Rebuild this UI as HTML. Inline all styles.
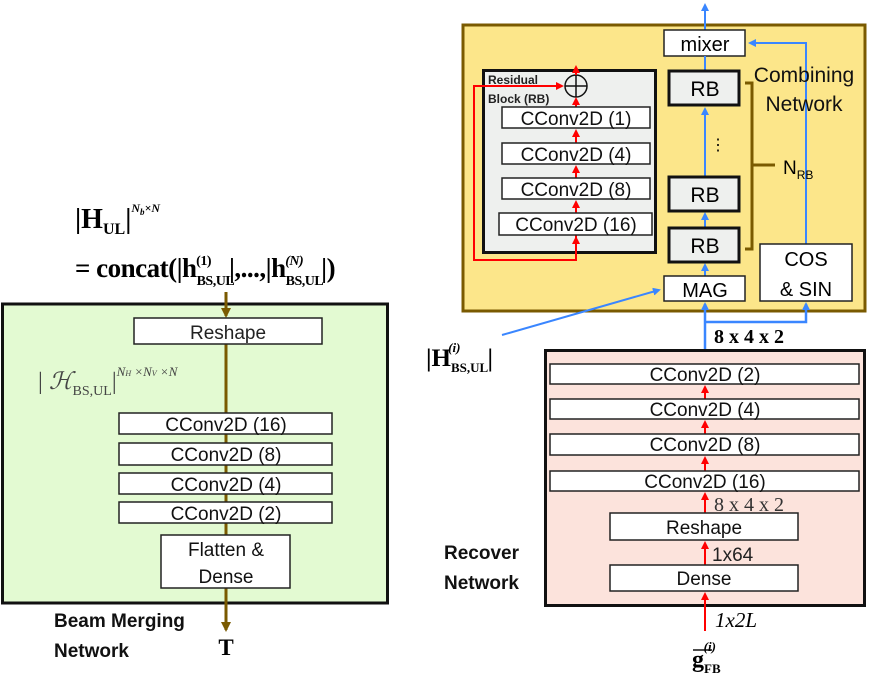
<!DOCTYPE html>
<html><head><meta charset="utf-8"><style>
html,body{margin:0;padding:0;background:#fff;}
svg{display:block;}
.s{font-family:"Liberation Sans",sans-serif;}
.r{font-family:"Liberation Serif",serif;}
</style></head><body>
<svg width="873" height="679" viewBox="0 0 873 679" xmlns="http://www.w3.org/2000/svg">
<defs>
<marker id="ab" markerWidth="8" markerHeight="8" refX="6" refY="4" orient="auto" markerUnits="userSpaceOnUse"><path d="M0,0 L8,4 L0,8 Z" fill="#3a86ff"/></marker>
<marker id="ar" markerWidth="8" markerHeight="8" refX="6" refY="4" orient="auto" markerUnits="userSpaceOnUse"><path d="M0,0 L8,4 L0,8 Z" fill="#f00"/></marker>
<marker id="ao" markerWidth="10" markerHeight="10" refX="8" refY="5" orient="auto" markerUnits="userSpaceOnUse"><path d="M0,0 L10,5 L0,10 Z" fill="#7a5a00"/></marker>
</defs>

<!-- LEFT -->
<text x="75" y="228" class="r" font-size="28" font-weight="bold">|<tspan>H</tspan><tspan font-size="16" dy="6">UL</tspan><tspan dy="-6">|</tspan><tspan font-size="12" font-style="italic" dy="-16">N</tspan><tspan font-size="9" font-style="italic" dy="3">b</tspan><tspan font-size="12" font-style="italic" dy="-3">×N</tspan></text>
<text x="75" y="277" class="r" font-size="27" font-weight="bold" letter-spacing="-0.5">= concat(|h<tspan font-size="14" dy="8">BS,UL</tspan><tspan font-size="14" dy="-20" dx="-38">(1)</tspan><tspan dy="12" dx="18">|,...,|h</tspan><tspan font-size="14" dy="8">BS,UL</tspan><tspan font-size="14" dy="-20" dx="-38" font-style="italic">(N)</tspan><tspan dy="12" dx="18">|)</tspan></text>

<rect x="2.5" y="304" width="385" height="299" fill="#e3fad2" stroke="#111" stroke-width="3"/>
<line x1="226" y1="292" x2="226" y2="316" stroke="#7a5a00" stroke-width="3" marker-end="url(#ao)"/>
<line x1="226" y1="344" x2="226" y2="630" stroke="#7a5a00" stroke-width="3" marker-end="url(#ao)"/>
<rect x="134" y="318" width="188" height="26" fill="#fff" stroke="#222" stroke-width="1.5"/>
<text x="228" y="339" class="s" font-size="19" text-anchor="middle" fill="#222">Reshape</text>
<text x="38" y="389" class="r" font-size="24" fill="#444">| <tspan font-style="italic" font-family="DejaVu Serif">ℋ</tspan><tspan font-size="14" dy="6">BS,UL</tspan><tspan dy="-6">|</tspan><tspan font-size="13" font-style="italic" dy="-13">N<tspan font-size="8">H</tspan> ×N<tspan font-size="8">V</tspan> ×N</tspan></text>
<g class="s" font-size="19" fill="#111" text-anchor="middle">
<rect x="119" y="413" width="213" height="21" fill="#fff" stroke="#222" stroke-width="1.5"/><text x="226" y="431">CConv2D (16)</text>
<rect x="119" y="443" width="213" height="22" fill="#fff" stroke="#222" stroke-width="1.5"/><text x="226" y="461">CConv2D (8)</text>
<rect x="119" y="473" width="213" height="21" fill="#fff" stroke="#222" stroke-width="1.5"/><text x="226" y="491">CConv2D (4)</text>
<rect x="119" y="502" width="213" height="21" fill="#fff" stroke="#222" stroke-width="1.5"/><text x="226" y="520">CConv2D (2)</text>
<rect x="161" y="535" width="129" height="53" fill="#fff" stroke="#222" stroke-width="1.5"/><text x="226" y="556">Flatten &amp;</text><text x="226" y="583">Dense</text>
</g>
<text x="54" y="627" class="s" font-size="19" font-weight="bold" fill="#111">Beam Merging</text>
<text x="54" y="657" class="s" font-size="19" font-weight="bold" fill="#111">Network</text>
<text x="226" y="655" class="r" font-size="23" font-weight="bold" text-anchor="middle">T</text>

<!-- RIGHT TOP -->
<rect x="463" y="25" width="402" height="286" fill="#fce68a" stroke="#7a5a00" stroke-width="3"/>
<line x1="705" y1="30" x2="705" y2="5" stroke="#3a86ff" stroke-width="2" marker-end="url(#ab)"/>
<rect x="664" y="30" width="81" height="26" fill="#fff" stroke="#222" stroke-width="1.5"/>
<text x="705" y="51" class="s" font-size="20" text-anchor="middle">mixer</text>
<polyline points="806,244 806,43 750,43" fill="none" stroke="#3a86ff" stroke-width="2" marker-end="url(#ab)"/>
<line x1="705" y1="56" x2="705" y2="70" stroke="#3a86ff" stroke-width="2"/>
<line x1="705" y1="176" x2="705" y2="109" stroke="#3a86ff" stroke-width="2" marker-end="url(#ab)"/>
<line x1="705" y1="227" x2="705" y2="214" stroke="#3a86ff" stroke-width="2" marker-end="url(#ab)"/>
<line x1="705" y1="276" x2="705" y2="265" stroke="#3a86ff" stroke-width="2" marker-end="url(#ab)"/>
<g class="s" font-size="21" text-anchor="middle">
<rect x="669" y="71" width="70" height="34" fill="#eef0ee" stroke="#111" stroke-width="3"/><text x="705" y="96">RB</text>
<rect x="669" y="177" width="70" height="34" fill="#eef0ee" stroke="#111" stroke-width="3"/><text x="705" y="202">RB</text>
<rect x="669" y="228" width="70" height="34" fill="#eef0ee" stroke="#111" stroke-width="3"/><text x="705" y="253">RB</text>
</g>
<text x="718" y="150" class="s" font-size="16" text-anchor="middle">⋮</text>
<path d="M745,83 H752 V249 H745 M752,165 H775" fill="none" stroke="#7a5a00" stroke-width="3"/>
<text x="783" y="174" class="s" font-size="19">N<tspan font-size="12" dy="5">RB</tspan></text>
<text x="804" y="82" class="s" font-size="21" text-anchor="middle" fill="#111">Combining</text>
<text x="804" y="111" class="s" font-size="21" text-anchor="middle" fill="#111">Network</text>
<rect x="664" y="276" width="81" height="25" fill="#fff" stroke="#222" stroke-width="1.5"/>
<text x="705" y="297" class="s" font-size="20" text-anchor="middle">MAG</text>
<rect x="760" y="244" width="92" height="57" fill="#fff" stroke="#222" stroke-width="1.5"/>
<text x="806" y="266" class="s" font-size="20" text-anchor="middle">COS</text>
<text x="806" y="296" class="s" font-size="20" text-anchor="middle">&amp; SIN</text>

<!-- residual block -->
<rect x="483.5" y="70.5" width="172" height="182" fill="#eef0ee" stroke="#111" stroke-width="3"/>
<text x="488" y="84" class="s" font-size="12" font-weight="bold" fill="#222">Residual</text>
<text x="488" y="103" class="s" font-size="12" font-weight="bold" fill="#222">Block (RB)</text>
<polyline points="576,235 576,260 474,260 474,86 562,86" fill="none" stroke="#f00" stroke-width="2" marker-end="url(#ar)"/>
<circle cx="576" cy="86" r="11" fill="none" stroke="#111" stroke-width="1.5"/>
<path d="M565,86 H587 M576,75 V97" stroke="#111" stroke-width="1.5"/>
<g stroke="#f00" stroke-width="2">
<line x1="576" y1="75" x2="576" y2="67" marker-end="url(#ar)"/>
<line x1="576" y1="107" x2="576" y2="99" marker-end="url(#ar)"/>
<line x1="576" y1="143" x2="576" y2="131" marker-end="url(#ar)"/>
<line x1="576" y1="178" x2="576" y2="167" marker-end="url(#ar)"/>
<line x1="576" y1="213" x2="576" y2="202" marker-end="url(#ar)"/>
<line x1="576" y1="250" x2="576" y2="238" marker-end="url(#ar)"/>
</g>
<g class="s" font-size="19" text-anchor="middle" fill="#111">
<rect x="502" y="107" width="148" height="21" fill="#fff" stroke="#222" stroke-width="1.5"/><text x="576" y="125">CConv2D (1)</text>
<rect x="502" y="143" width="148" height="21" fill="#fff" stroke="#222" stroke-width="1.5"/><text x="576" y="161">CConv2D (4)</text>
<rect x="502" y="178" width="148" height="21" fill="#fff" stroke="#222" stroke-width="1.5"/><text x="576" y="196">CConv2D (8)</text>
<rect x="499" y="213" width="153" height="22" fill="#fff" stroke="#222" stroke-width="1.5"/><text x="576" y="231">CConv2D (16)</text>
</g>

<!-- blue connectors between -->
<line x1="502" y1="335" x2="659" y2="290" stroke="#3a86ff" stroke-width="2" marker-end="url(#ab)"/>
<line x1="705" y1="363" x2="705" y2="304" stroke="#3a86ff" stroke-width="2.5" marker-end="url(#ab)"/>
<polyline points="705,322 806,322 806,304" fill="none" stroke="#3a86ff" stroke-width="2.5" marker-end="url(#ab)"/>
<text x="714" y="343" class="r" font-size="20" font-weight="bold">8 x 4 x 2</text>
<text x="426" y="366" class="r" font-size="25" font-weight="bold">|H<tspan font-size="13" dy="6">BS,UL</tspan><tspan font-size="13" dy="-20" dx="-40" font-style="italic">(i)</tspan><tspan dy="14" dx="27">|</tspan></text>

<!-- recover -->
<rect x="545.5" y="350.5" width="319" height="255" fill="#fce3dc" stroke="#111" stroke-width="3"/>
<g stroke="#f00" stroke-width="2">
<line x1="705" y1="399" x2="705" y2="387" marker-end="url(#ar)"/>
<line x1="705" y1="434" x2="705" y2="422" marker-end="url(#ar)"/>
<line x1="705" y1="471" x2="705" y2="458" marker-end="url(#ar)"/>
<line x1="705" y1="513" x2="705" y2="494" marker-end="url(#ar)"/>
<line x1="705" y1="565" x2="705" y2="543" marker-end="url(#ar)"/>
<line x1="705" y1="631" x2="705" y2="594" marker-end="url(#ar)"/>
</g>
<g class="s" font-size="19" text-anchor="middle" fill="#111">
<rect x="550" y="364" width="309" height="20" fill="#fff" stroke="#222" stroke-width="1.5"/><text x="705" y="381">CConv2D (2)</text>
<rect x="550" y="399" width="309" height="20" fill="#fff" stroke="#222" stroke-width="1.5"/><text x="705" y="416">CConv2D (4)</text>
<rect x="550" y="434" width="309" height="21" fill="#fff" stroke="#222" stroke-width="1.5"/><text x="705" y="451">CConv2D (8)</text>
<rect x="550" y="471" width="309" height="20" fill="#fff" stroke="#222" stroke-width="1.5"/><text x="705" y="488">CConv2D (16)</text>
<rect x="610" y="513" width="188" height="27" fill="#fff" stroke="#222" stroke-width="1.5"/><text x="704" y="534">Reshape</text>
<rect x="610" y="565" width="188" height="26" fill="#fff" stroke="#222" stroke-width="1.5"/><text x="704" y="585">Dense</text>
</g>
<text x="714" y="511" class="r" font-size="20" fill="#333">8 x 4 x 2</text>
<text x="712" y="561" class="s" font-size="19" fill="#222">1x64</text>
<text x="715" y="627" class="r" font-size="21" font-style="italic">1x2L</text>
<text x="444" y="559" class="s" font-size="19" font-weight="bold" fill="#111">Recover</text>
<text x="444" y="589" class="s" font-size="19" font-weight="bold" fill="#111">Network</text>
<line x1="693" y1="650" x2="712" y2="650" stroke="#111" stroke-width="1.5"/>
<text x="692" y="667" class="r" font-size="24" font-weight="bold">g<tspan font-size="13" dy="6">FB</tspan><tspan font-size="13" dy="-22" dx="-17" font-style="italic">(i)</tspan></text>
</svg>
</body></html>
